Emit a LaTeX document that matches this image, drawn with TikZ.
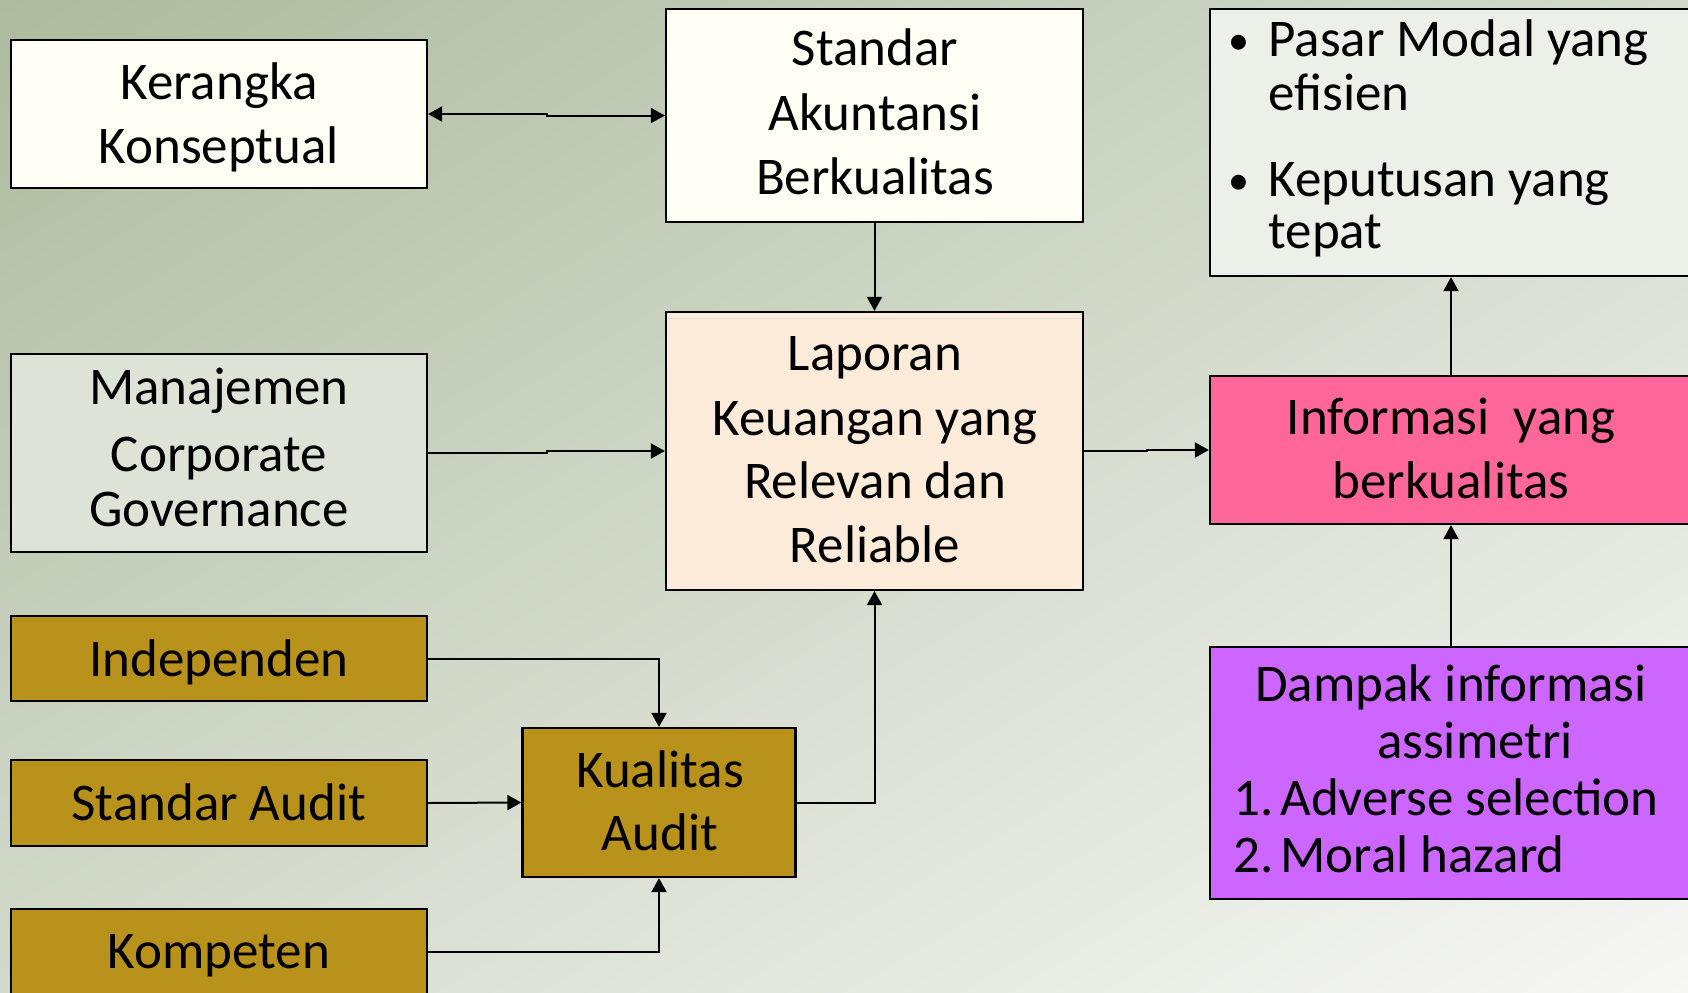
\documentclass[tikz,border=0pt]{standalone}
\usepackage{fontspec}
\setmainfont{Carlito}
\usetikzlibrary{arrows.meta,calc,shadings}
\definecolor{bgA}{HTML}{ADBB9E}
\definecolor{bgM}{HTML}{D3DACB}
\definecolor{bgB}{HTML}{F7F7F5}
\definecolor{ivory}{HTML}{FFFFF6}
\definecolor{paleg}{HTML}{EDEFE9}
\definecolor{mgray}{HTML}{DDE3D7}
\definecolor{peach}{HTML}{FDEBDA}
\definecolor{pinkbox}{HTML}{FF6699}
\definecolor{purplebox}{HTML}{CC66FF}
\definecolor{goldbox}{HTML}{B8921A}
\definecolor{faintline}{HTML}{D5DDDA}
\newlength\px
\setlength\px{0.5pt}
\newcommand\boxfont{\fontsize{26.5pt}{31.8pt}\selectfont}
\tikzset{
  box/.style={draw=black, line width=1.1pt, rectangle, inner sep=0pt},
  txt/.style={inner sep=0pt, font=\boxfont, text=black},
  bul/.style={inner sep=0pt, font=\fontsize{21pt}{25pt}\selectfont, text=black},
  conn/.style={line width=1pt, ->},
}
\begin{document}
\begin{tikzpicture}[x=0.5pt, y=-0.5pt, >={Triangle[length=7pt,width=7.5pt]}]
\useasboundingbox (0,0) rectangle (1688,992);
\clip (0,0) rectangle (1688,992);
\shade[upper left=bgA, upper right=bgM, lower left=bgM, lower right=bgB] (0,0) rectangle (1688,992);

% boxes
\node[box, fill=ivory, minimum width=416\px, minimum height=148\px] (ker) at (219,114) {};
\node[box, fill=ivory, minimum width=417\px, minimum height=213\px] (std) at (874.5,115.5) {};
\node[box, fill=paleg, minimum width=482\px, minimum height=267\px] (pas) at (1451,142.5) {};
\node[box, fill=mgray, minimum width=416\px, minimum height=198\px] (man) at (219,453) {};
\node[box, fill=peach, minimum width=417\px, minimum height=278\px] (lap) at (874.5,451) {};
\node[box, fill=pinkbox, minimum width=482\px, minimum height=148\px] (inf) at (1451,450) {};
\node[box, fill=purplebox, minimum width=482\px, minimum height=252\px] (dam) at (1451,773) {};
\node[box, fill=goldbox, minimum width=416\px, minimum height=85\px] (ind) at (219,658.5) {};
\node[box, fill=goldbox, minimum width=416\px, minimum height=86\px] (sau) at (219,803) {};
\node[box, fill=goldbox, minimum width=416\px, minimum height=86\px] (kom) at (219,952) {};
\node[box, fill=goldbox, minimum width=273\px, minimum height=149\px] (kua) at (659,802.5) {};

\draw[line width=0.5pt, faintline] ($(lap.north west)+(3,8)$) -- ($(lap.north east)+(-3,8)$);

% texts
\node[txt, anchor=base] (kerT1) at (219,99) {Kerangka};
\node[txt, anchor=base] (kerT2) at (219,163) {Konseptual};

\node[txt, anchor=base] (stdT1) at (875,65.7) {Standar};
\node[txt, anchor=base] (stdT2) at (875,130.7) {Akuntansi};
\node[txt, anchor=base] (stdT3) at (875,194.3) {Berkualitas};

\node[bul, anchor=base] (pasB1) at (1239,54) {•};
\node[txt, anchor=base west] (pasT1) at (1268,56.7) {Pasar Modal yang};
\node[txt, anchor=base west] (pasT2) at (1268,110) {efisien};
\node[bul, anchor=base] (pasB2) at (1239,194) {•};
\node[txt, anchor=base west] (pasT3) at (1268,196.7) {Keputusan yang};
\node[txt, anchor=base west] (pasT4) at (1268,248.3) {tepat};

\node[txt, anchor=base] (manT1) at (219,404) {Manajemen};
\node[txt, anchor=base] (manT2) at (219,471.7) {Corporate};
\node[txt, anchor=base] (manT3) at (219,526) {Governance};

\node[txt, anchor=base] (lapT1) at (875,370.7) {Laporan};
\node[txt, anchor=base] (lapT2) at (875,435) {Keuangan yang};
\node[txt, anchor=base] (lapT3) at (875,498) {Relevan dan};
\node[txt, anchor=base] (lapT4) at (875,562.7) {Reliable};

\node[txt, anchor=base] (infT1) at (1451,434) {Informasi\ \ yang};
\node[txt, anchor=base] (infT2) at (1451,498.3) {berkualitas};

\node[txt, anchor=base] (damT1) at (1451,701) {Dampak informasi};
\node[txt, anchor=base] (damT2) at (1475,758) {assimetri};
\node[txt, anchor=base west] (damT3) at (1233,815) {\makebox[47\px][l]{1.}Adverse selection};
\node[txt, anchor=base west] (damT4) at (1233,872) {\makebox[47\px][l]{2.}Moral hazard};

\node[txt, anchor=base] (indT) at (219,676) {Independen};
\node[txt, anchor=base] (sauT) at (219,820) {Standar Audit};
\node[txt, anchor=base] (komT) at (219,968.3) {Kompeten};
\node[txt, anchor=base] (kuaT1) at (660,787.7) {Kualitas};
\node[txt, anchor=base] (kuaT2) at (660,850.7) {Audit};

% connectors
\draw[conn, <->] (ker.east) -| ($(ker.east)!0.5!(std.west)$) |- (std.west);
\draw[conn] (std.south) -- (lap.north);
\draw[conn] (man.east) -| ($(man.east)!0.5!(lap.west)$) |- (lap.west);
\draw[conn] (lap.east) -| ($(lap.east)!0.5!(inf.west)$) |- (inf.west);
\draw[conn] (inf.north) -- (pas.south);
\draw[conn] (dam.north) -- (inf.south);
\draw[conn] (ind.east) -| (kua.north);
\draw[conn] (sau.east) -- (kua.west);
\draw[conn] (kom.east) -| (kua.south);
\draw[conn] (kua.east) -| (lap.south);
\end{tikzpicture}
\end{document}
